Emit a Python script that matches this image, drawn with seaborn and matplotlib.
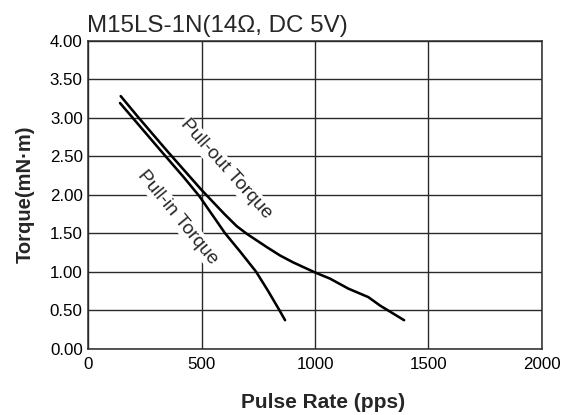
import matplotlib
matplotlib.use("Agg")
import matplotlib.pyplot as plt
import seaborn as sns
import pandas as pd

# Data
pullout_x = [143, 222, 353, 500, 600, 655, 700, 787, 846, 904, 1000, 1066, 1147, 1235, 1287, 1393]
pullout_y = [3.28, 3.00, 2.55, 2.06, 1.75, 1.59, 1.49, 1.32, 1.21, 1.12, 0.99, 0.91, 0.78, 0.67, 0.56, 0.37]
pullin_x = [140, 320, 420, 490, 603, 670, 740, 791, 843, 868]
pullin_y = [3.19, 2.57, 2.23, 1.98, 1.50, 1.26, 1.00, 0.76, 0.50, 0.37]

x_ticks = [0, 500, 1000, 1500, 2000]
y_ticks = [0.0, 0.5, 1.0, 1.5, 2.0, 2.5, 3.0, 3.5, 4.0]

title = "M15LS-1N(14\u03a9, DC 5V)"
xlabel = "Pulse Rate (pps)"
ylabel = "Torque(mN\u00b7m)"
label_out = "Pull-out Torque"
label_in = "Pull-in Torque"

sns.set_style("white")
plt.rcParams['font.family'] = ['Liberation Sans', 'DejaVu Sans']

fig = plt.figure(figsize=(5.62, 4.15), dpi=100)
ax = fig.add_axes([0.1571, 0.1598, 0.8068, 0.7422])

df_out = pd.DataFrame({"x": pullout_x, "y": pullout_y})
df_in = pd.DataFrame({"x": pullin_x, "y": pullin_y})
sns.lineplot(data=df_out, x="x", y="y", ax=ax, color="black", lw=1.85, sort=False, zorder=5)
sns.lineplot(data=df_in, x="x", y="y", ax=ax, color="black", lw=1.85, sort=False, zorder=5)

ax.set_xlim(0, 2000)
ax.set_ylim(0, 4)
ax.set_xticks(x_ticks)
ax.set_yticks(y_ticks)
ax.set_xticklabels([str(v) for v in x_ticks])
ax.set_yticklabels([f"{v:.2f}" for v in y_ticks])
ax.tick_params(axis='both', length=0, labelsize=12.2, colors='black')
ax.tick_params(axis='x', pad=6)
ax.tick_params(axis='y', pad=4)

ax.grid(True, color='#2a2a2a', lw=1.0, zorder=1)
ax.set_axisbelow(True)
for s in ax.spines.values():
    s.set_color('#2a2a2a')
    s.set_linewidth(1.1)

ax.set_xlabel(xlabel, fontsize=15, fontweight='bold')
ax.xaxis.set_label_coords(0.518, -0.145)
ax.set_ylabel(ylabel, fontsize=14.5, fontweight='bold', labelpad=11)
ax.set_title(title, loc='left', fontsize=17.4, pad=6, x=-0.003)

bb = dict(facecolor='white', edgecolor='none', pad=1.0)
ax.text(606, 2.33, label_out, rotation=-48, rotation_mode='anchor', ha='center', va='center',
        fontsize=13.8, bbox=bb, zorder=3)
ax.text(393, 1.71, label_in, rotation=-50.5, rotation_mode='anchor', ha='center', va='center',
        fontsize=13.8, bbox=bb, zorder=3)

fig.savefig("out.png", dpi=100)
